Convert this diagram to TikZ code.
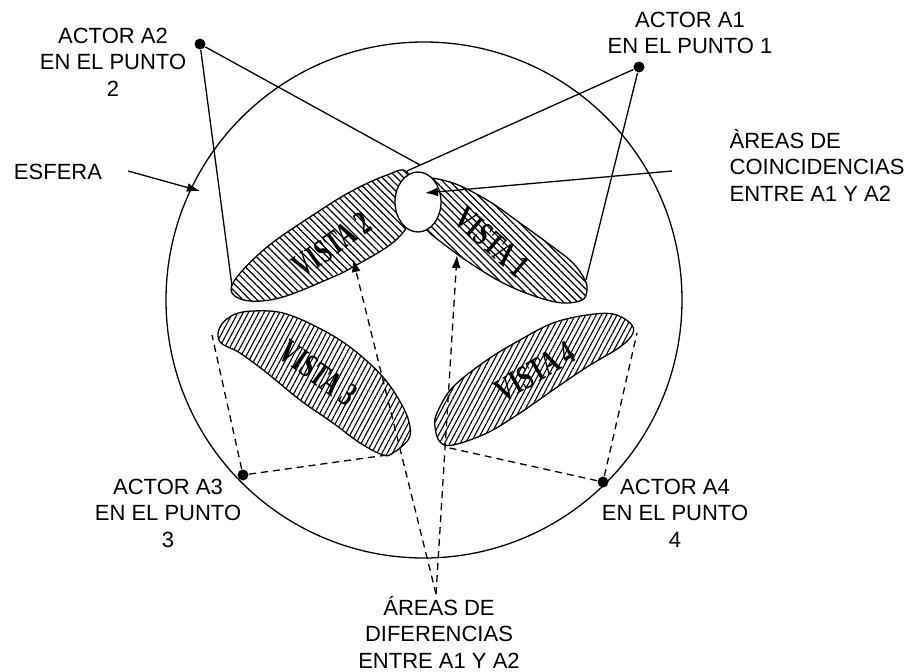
\documentclass[tikz,border=0pt]{standalone}
\usepackage{fontspec}
\usepackage{graphicx}
\setmainfont{Liberation Sans}
\newfontfamily\vistafont{Liberation Serif}
\usetikzlibrary{arrows.meta,patterns.meta}
\tikzset{
  actor/.style={circle,fill,inner sep=0pt,minimum size=11pt},
  lbl/.style={align=center,font=\fontsize{22}{26.5}\selectfont,inner sep=0pt},
  vista/.style={font=\vistafont\bfseries\fontsize{34}{34}\selectfont,inner sep=0pt},
  arr/.style={-{Latex[length=13pt,width=9pt]}},
  dsh/.style={dash pattern=on 7pt off 5pt},
  hatchA/.style={pattern={Lines[angle=-45,distance=5pt,line width=1.2pt]}},
  hatchB/.style={pattern={Lines[angle=62,distance=4.6pt,line width=1.1pt]}},
}
\newcommand\vistatext[1]{\scalebox{0.68}[1]{#1}}
\begin{document}
\begin{tikzpicture}[x=1pt,y=-1pt,line width=1.3pt]
\useasboundingbox (0,0) rectangle (908,672);
\draw (424,300) circle [radius=258pt];

% vistas
\draw [hatchA] plot [smooth cycle, tension=0.6] coordinates {
  (232,293) (250,301) (283,297) (333,277) (353,267) (387,247) (405,230)
  (418,205) (407,172) (387,175) (350,192) (310,217) (267,247) (237,277)};
\draw [hatchA] plot [smooth cycle, tension=0.6] coordinates {
  (420,180) (450,182) (487,200) (520,223) (553,247) (573,263) (585,280)
  (587,291) (582,300) (563,303) (537,297) (503,283) (470,263) (445,245)
  (425,228) (412,205)};
\draw [hatchB] plot [smooth cycle, tension=0.6] coordinates {
  (220,327) (233,315) (253,311) (283,313) (317,327) (350,347) (383,377)
  (403,407) (410,427) (408,440) (393,453) (383,455) (360,443) (333,423)
  (300,400) (267,373) (240,353) (220,342)};
\draw [hatchB] plot [smooth cycle, tension=0.6] coordinates {
  (437,413) (453,387) (487,360) (520,340) (553,323) (587,315) (613,314)
  (630,323) (633,333) (620,347) (587,367) (553,390) (520,413) (487,433)
  (453,445) (440,442) (435,427)};
\draw [fill=white] (418,202) ellipse [x radius=23pt, y radius=30pt];

\node [vista, rotate=35]  (vis2) at (332,245) {\vistatext{VISTA 2}};
\node [vista, rotate=-41] (vis1) at (492,242) {\vistatext{VISTA 1}};
\node [vista, rotate=-36] (vis3) at (318,373) {\vistatext{VISTA 3}};
\node [vista, rotate=30]  (vis4) at (535,372) {\vistatext{VISTA 4}};

\path (420,165) coordinate (x12)
      (232,286) coordinate (v2w)
      (407,171) coordinate (v2e)
      (586,280) coordinate (v1e)
      (212,335) coordinate (v3w)
      (387,455) coordinate (v3e)
      (445,447) coordinate (v4w)
      (637,333) coordinate (v4e);

\node [actor] (a1) at (639,67) {};
\node [actor] (a2) at (200,44) {};
\node [actor] (a3) at (243,475) {};
\node [actor] (a4) at (603,482) {};
\draw (a2) -- (x12);
\draw (a2) -- (v2w);
\draw (a1) -- (v2e);
\draw (a1) -- (v1e);
\draw [dsh] (a3) -- (v3w);
\draw [dsh] (a3) -- (v3e);
\draw [dsh] (a4) -- (v4w);
\draw [dsh] (a4) -- (v4e);

\node [lbl] (la2) at (113,62) {ACTOR A2\\EN EL PUNTO\\2};
\node [lbl] (la1) at (690,33) {ACTOR A1\\EN EL PUNTO 1};
\node [lbl] (la3) at (168,513) {ACTOR A3\\EN EL PUNTO\\3};
\node [lbl] (la4) at (675,513) {ACTOR A4\\EN EL PUNTO\\4};
\node [lbl] (esf) at (58,172) {ESFERA};
\node [lbl, align=left, anchor=west] (coin) at (729,165) {ÀREAS DE\\COINCIDENCIAS\\ ENTRE A1 Y A2};
\node [lbl] (dif) at (439,632) {ÁREAS DE\\DIFERENCIAS\\ENTRE A1 Y A2};

\path (128,171) coordinate (esfs)
      (200,191) coordinate (esfp)
      (672,171) coordinate (coins)
      (425,193) coordinate (coinp)
      (436,594) coordinate (difs)
      (353,259) coordinate (dif2)
      (457,255) coordinate (dif1);
\draw [arr] (esfs) -- (esfp);
\draw [arr] (coins) -- (coinp);
\draw [arr, dsh] (difs) -- (dif2);
\draw [arr, dsh] (difs) -- (dif1);
\end{tikzpicture}
\end{document}
